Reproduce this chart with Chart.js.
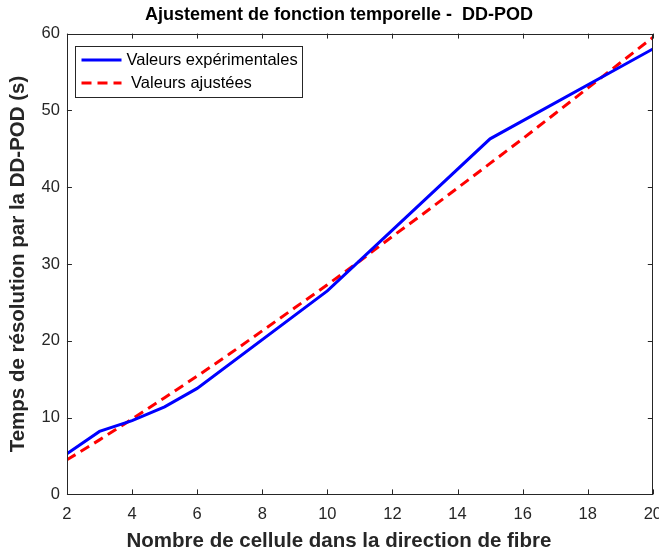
<!DOCTYPE html>
<html>
<head>
<meta charset="utf-8">
<script src="https://cdn.jsdelivr.net/npm/chart.js@4"></script>
<style>
  html, body { margin: 0; padding: 0; background: #fff; overflow: hidden; }
  #wrap { width: 672px; height: 554px; }
</style>
</head>
<body>
<div id="wrap"><canvas id="myChart"></canvas></div>
<script>
// experimental timings (blue)
const expX = [2, 3, 4, 5, 6, 10, 15, 20];
const expY = [5.3, 8.2, 9.6, 11.4, 13.8, 26.5, 46.3, 58.0];

// fitted curve (red dashed)
const fitX = [2, 3, 4, 5, 6, 7, 8, 9, 10, 11, 12, 13, 14, 15, 16, 17, 18, 19, 20];
const fitY = [4.5, 7.1, 9.8, 12.6, 15.4, 18.3, 21.3, 24.3, 27.3, 30.4, 33.6, 36.7, 39.9, 43.1, 46.3, 49.6, 52.9, 56.2, 59.5];

const xTicks = [2, 4, 6, 8, 10, 12, 14, 16, 18, 20];
const yTicks = [0, 10, 20, 30, 40, 50, 60];

const FONT = 'Liberation Sans, Arial, Helvetica, sans-serif';
const AXIS = '#262626';

function toPoints(xs, ys) {
    return xs.map((x, i) => ({ x: x, y: ys[i] }));
}

// box around plot, inward ticks on all four sides, and a boxed legend inside the plot
const matlabBox = {
    id: 'matlabBox',
    afterDraw(chart) {
        const ctx = chart.ctx;
        const a = chart.chartArea;
        const xs = chart.scales.x, ys = chart.scales.y;
        ctx.save();
        ctx.strokeStyle = AXIS;
        ctx.lineWidth = 1;
        ctx.strokeRect(Math.round(a.left) + 0.5, Math.round(a.top) + 0.5,
            Math.round(a.right - a.left) - 1, Math.round(a.bottom - a.top) - 1);
        const len = 5;
        ctx.beginPath();
        xTicks.forEach(v => {
            const px = Math.round(xs.getPixelForValue(v)) + 0.5;
            ctx.moveTo(px, a.bottom); ctx.lineTo(px, a.bottom - len);
            ctx.moveTo(px, a.top); ctx.lineTo(px, a.top + len);
        });
        yTicks.forEach(v => {
            const py = Math.round(ys.getPixelForValue(v)) + 0.5;
            ctx.moveTo(a.left, py); ctx.lineTo(a.left + len, py);
            ctx.moveTo(a.right, py); ctx.lineTo(a.right - len, py);
        });
        ctx.stroke();

        // legend
        const sets = chart.data.datasets;
        ctx.font = '16.5px ' + FONT;
        let textW = 0;
        sets.forEach(d => { textW = Math.max(textW, ctx.measureText(d.label).width); });
        const bx = Math.round(a.left) + 8.5, by = Math.round(a.top) + 12.5;
        const rowH = 23;
        const bw = Math.ceil(6 + 40 + 5 + textW + 4);
        const bh = 2 + rowH * sets.length + 3;
        ctx.fillStyle = '#fff';
        ctx.fillRect(bx, by, bw, bh);
        ctx.strokeStyle = AXIS;
        ctx.strokeRect(bx, by, bw, bh);
        sets.forEach((d, i) => {
            const cy = by + 2 + rowH * i + rowH / 2;
            ctx.beginPath();
            ctx.strokeStyle = d.borderColor;
            ctx.lineWidth = d.borderWidth;
            ctx.setLineDash(d.borderDash || []);
            ctx.moveTo(bx + 6, cy);
            ctx.lineTo(bx + 46, cy);
            ctx.stroke();
            ctx.setLineDash([]);
            ctx.fillStyle = '#000';
            ctx.textBaseline = 'middle';
            ctx.textAlign = 'left';
            ctx.fillText(d.label, bx + 51, cy);
        });
        ctx.restore();
    }
};

const data = {
    datasets: [
        {
            label: 'Valeurs expérimentales',
            data: toPoints(expX, expY),
            borderColor: '#0000ff',
            backgroundColor: '#0000ff',
            borderWidth: 3,
            pointRadius: 0,
            tension: 0
        },
        {
            label: ' Valeurs ajustées',
            data: toPoints(fitX, fitY),
            borderColor: '#ff0000',
            backgroundColor: '#ff0000',
            borderWidth: 3,
            borderDash: [10, 6],
            pointRadius: 0,
            tension: 0
        }
    ]
};

const config = {
    type: 'line',
    data: data,
    options: {
        responsive: true,
        maintainAspectRatio: false,
        animation: false,
        layout: { padding: { left: 6, right: 0, top: 0, bottom: 0 } },
        plugins: {
            title: {
                display: true,
                text: 'Ajustement de fonction temporelle -  DD-POD',
                color: '#000',
                font: { family: FONT, size: 18, weight: 'bold' },
                padding: { top: 4, bottom: 8 }
            },
            subtitle: {
                display: true,
                position: 'bottom',
                text: 'Nombre de cellule dans la direction de fibre',
                color: AXIS,
                font: { family: FONT, size: 20.5, weight: 'bold' },
                padding: { top: 4, bottom: 0 }
            },
            legend: { display: false },
            tooltip: { enabled: false }
        },
        scales: {
            x: {
                type: 'linear',
                min: 2,
                max: 20,
                afterBuildTicks(axis) { axis.ticks = xTicks.map(v => ({ value: v })); },
                afterFit(axis) { axis.height = 31; },
                grid: { display: false, drawTicks: false },
                border: { display: false },
                ticks: { color: AXIS, font: { family: FONT, size: 16.5 }, padding: 10, maxRotation: 0 }
            },
            y: {
                min: 0,
                max: 60,
                afterBuildTicks(axis) { axis.ticks = yTicks.map(v => ({ value: v })); },
                grid: { display: false, drawTicks: false },
                border: { display: false },
                ticks: { color: AXIS, font: { family: FONT, size: 16.5 }, padding: 7 },
                title: {
                    display: true,
                    text: 'Temps de résolution par la DD-POD (s)',
                    color: AXIS,
                    font: { family: FONT, size: 20.5, weight: 'bold' },
                    padding: { top: 0, bottom: 4 }
                }
            }
        }
    },
    plugins: [matlabBox]
};

const myChart = new Chart(document.getElementById('myChart'), config);
</script>
</body>
</html>
